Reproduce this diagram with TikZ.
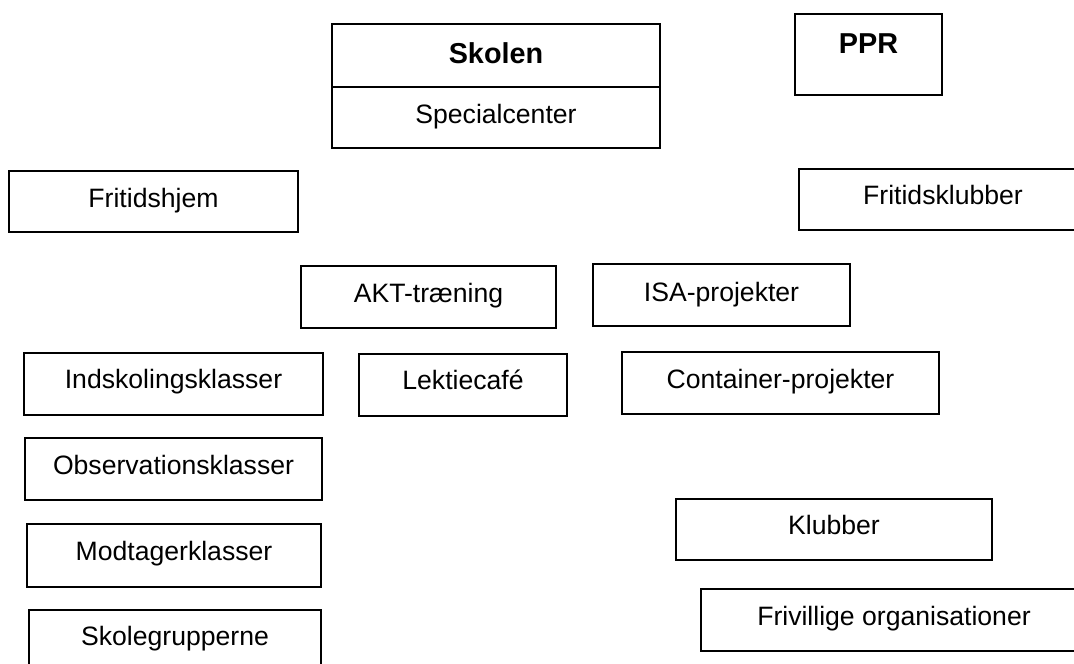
\documentclass[tikz,border=0pt]{standalone}
\usepackage{fontspec}
\setmainfont{Liberation Sans}
\newcommand\mybox[7]{%
  \pgfmathsetmacro\bw{#4-#2}%
  \pgfmathsetmacro\bd{#5-#3-#6}%
  \node[boxstyle, anchor=north west, minimum width=\bw pt, text height=#6pt, text depth=\bd pt] (#1) at (#2,#3) {#7};%
}
\begin{document}
\begin{tikzpicture}[x=1pt,y=-1pt,
  boxstyle/.style={draw=black, line width=1.8pt, inner sep=0pt, outer sep=0pt,
    font=\fontsize{26.6pt}{30pt}\selectfont},
  boldtext/.style={font=\fontsize{28.8pt}{32pt}\selectfont\bfseries}]
\clip (0,0) rectangle (1074,664);
\fill[white] (0,0) rectangle (1074,664);
\mybox{skolen}{332}{24}{660}{87}{39}{\fontsize{28.8pt}{32pt}\selectfont\bfseries Skolen}
\mybox{special}{332}{87}{660}{148}{36}{Specialcenter}
\mybox{ppr}{795}{14}{942}{95}{39}{\fontsize{28.8pt}{32pt}\selectfont\bfseries PPR}
\mybox{fritidshjem}{9}{171}{298}{232}{36}{Fritidshjem}
\mybox{fritidsklubber}{799}{169}{1087}{230}{35}{Fritidsklubber}
\mybox{akt}{301}{266}{556}{328}{36}{AKT-træning}
\mybox{isa}{593}{264}{850}{326}{37}{ISA-projekter}
\mybox{indskol}{24}{353}{323}{415}{35}{Indskolingsklasser}
\mybox{lektie}{359}{354}{567}{416}{35}{Lektiecafé}
\mybox{container}{622}{352}{939}{414}{36}{Container-projekter}
\mybox{observ}{25}{438}{322}{500}{36}{Observationsklasser}
\mybox{modtag}{27}{524}{321}{587}{36}{Modtagerklasser}
\mybox{skolegr}{29}{610}{321}{672}{35}{Skolegrupperne}
\mybox{klubber}{676}{499}{992}{560}{35}{Klubber}
\mybox{frivillige}{701}{589}{1087}{651}{36}{Frivillige organisationer}
\end{tikzpicture}
\end{document}
